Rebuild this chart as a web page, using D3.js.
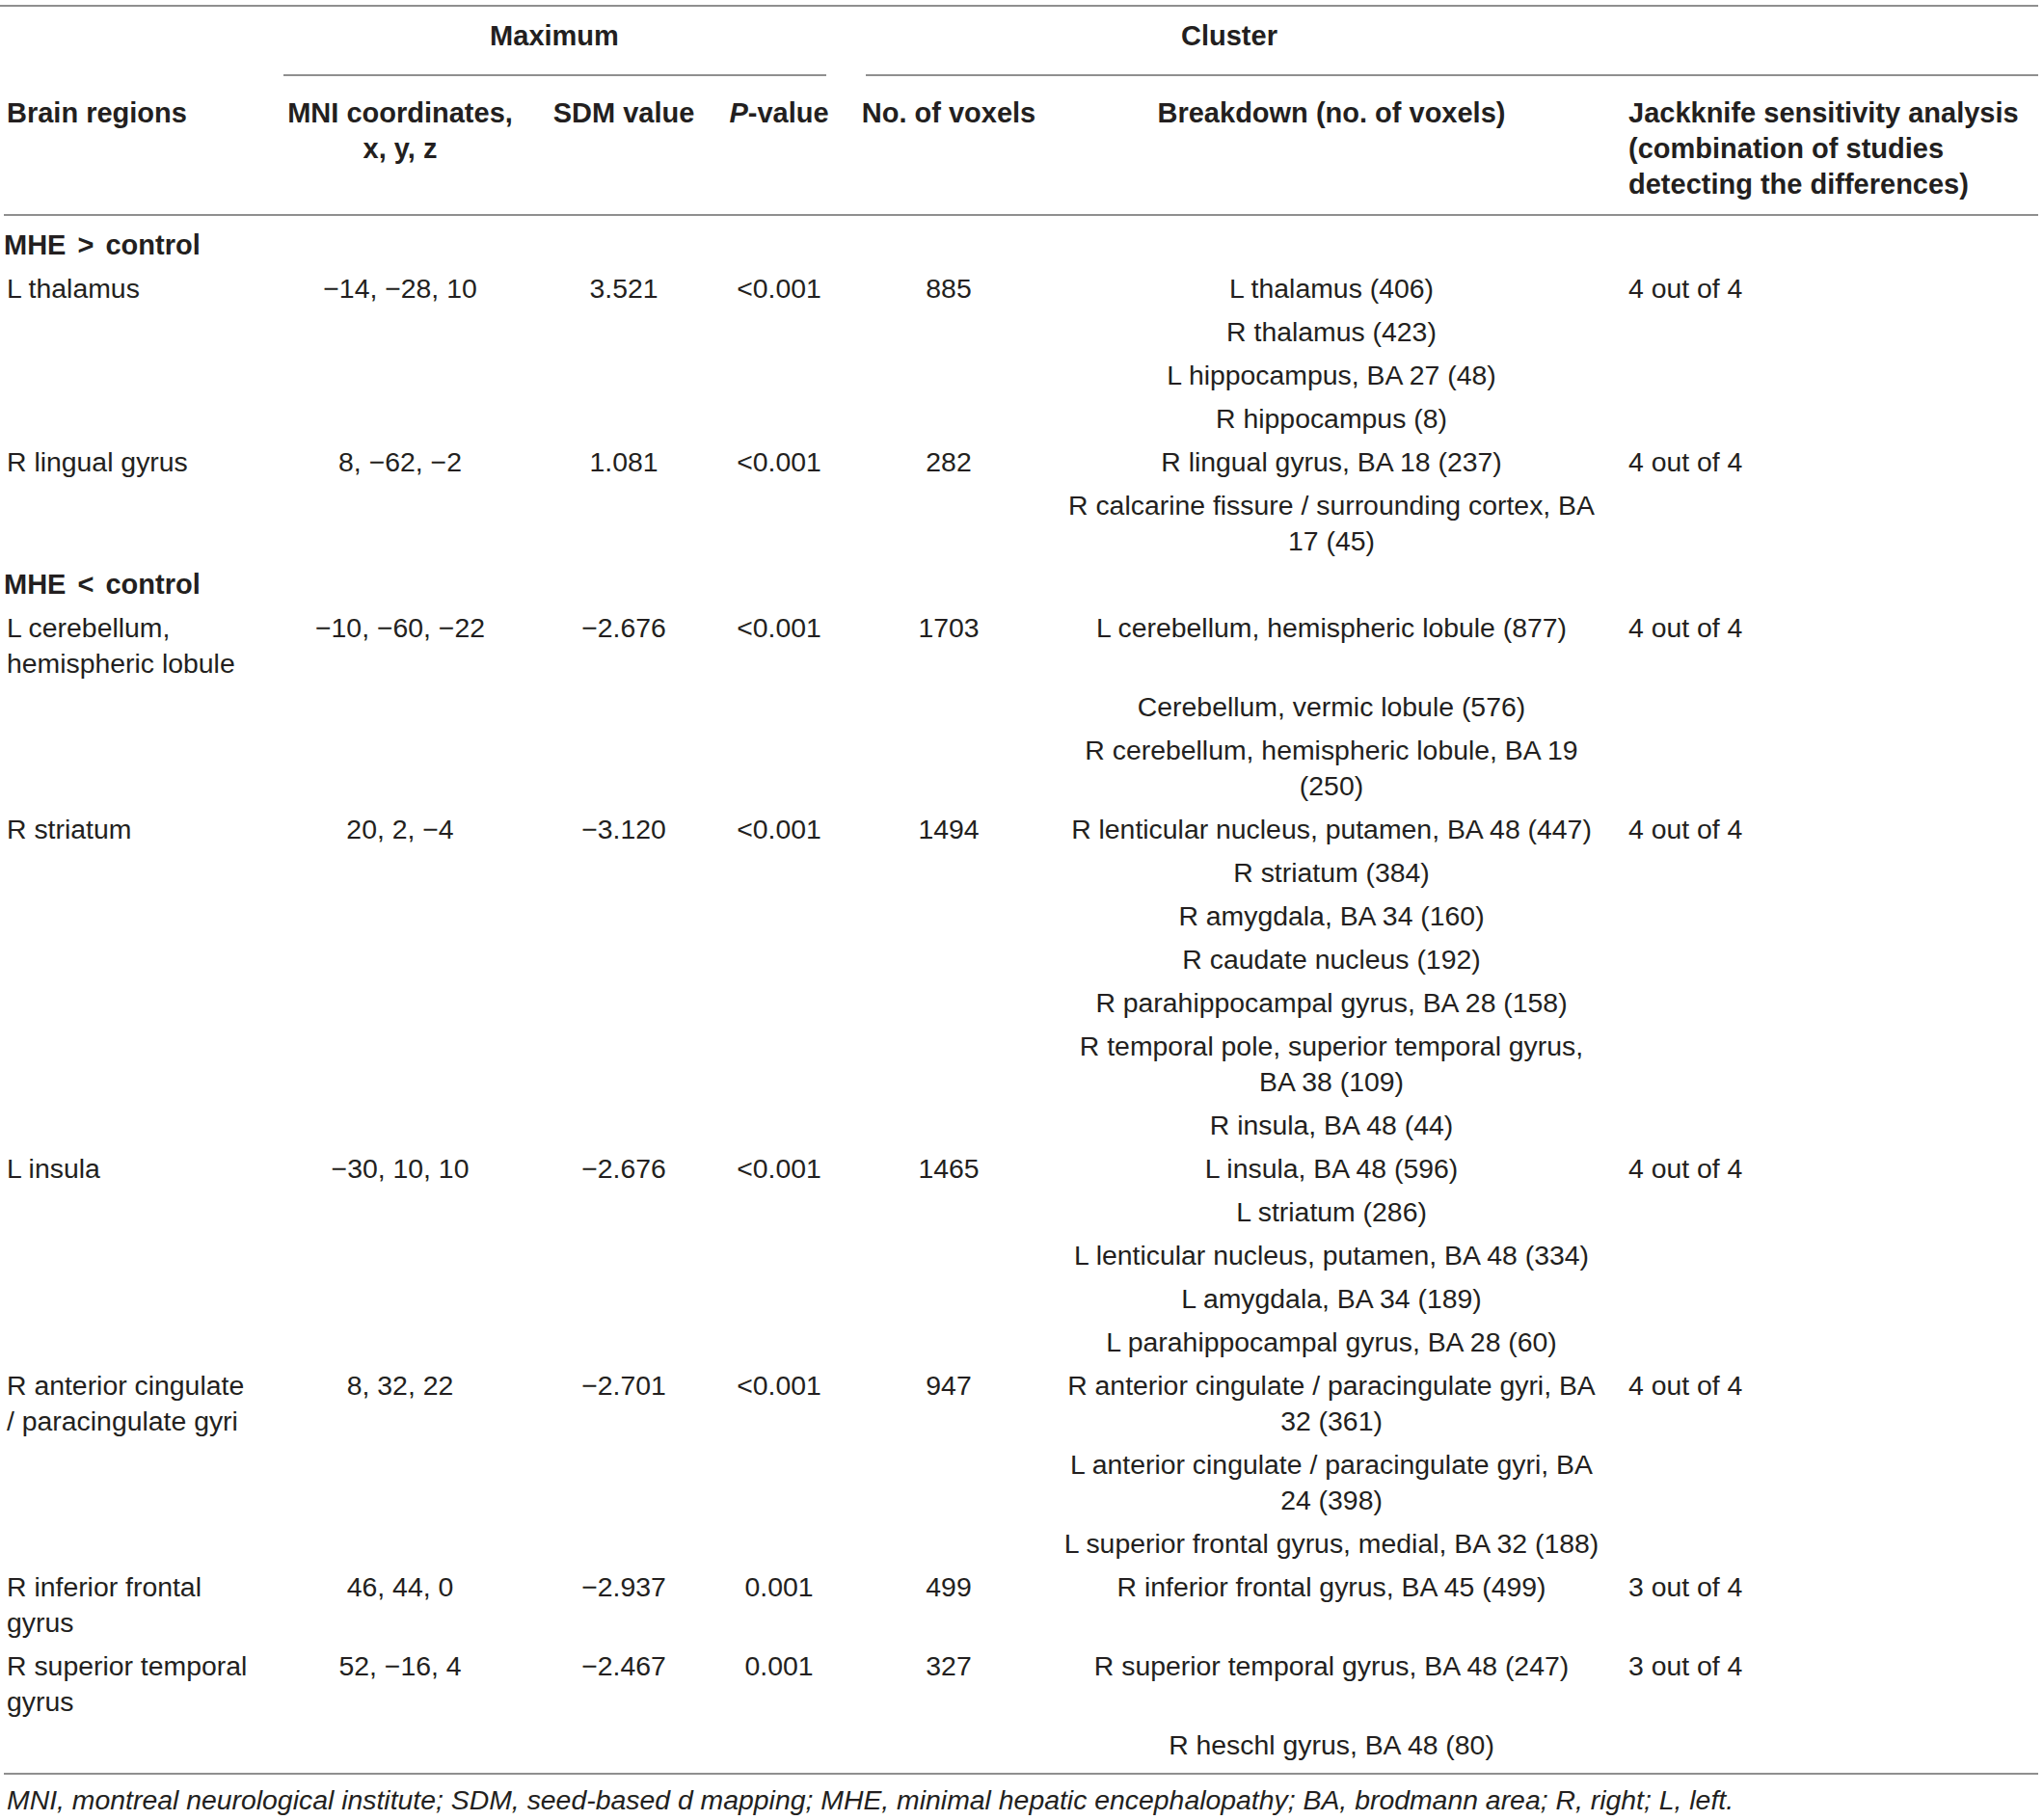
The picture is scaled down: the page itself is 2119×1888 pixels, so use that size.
<!DOCTYPE html>
<html><head><meta charset="utf-8">
<script src="https://cdn.jsdelivr.net/npm/d3@7"></script>
<style>body{margin:0;background:#fff}svg{display:block}</style>
</head><body><svg id="chart"></svg>
<script>
// ---------------- data ----------------
const groupLabels = ["MHE > control", "MHE < control"];
const regionGroup = [0, 0, 1, 1, 1, 1, 1, 1];
const regions = ["L thalamus", "R lingual gyrus", "L cerebellum,\nhemispheric lobule", "R striatum", "L insula",
  "R anterior cingulate\n/ paracingulate gyri", "R inferior frontal\ngyrus", "R superior temporal\ngyrus"];
const mniCoords = ["−14, −28, 10", "8, −62, −2", "−10, −60, −22", "20, 2, −4", "−30, 10, 10", "8, 32, 22", "46, 44, 0", "52, −16, 4"];
const sdmValues = ["3.521", "1.081", "−2.676", "−3.120", "−2.676", "−2.701", "−2.937", "−2.467"];
const pValues = ["<0.001", "<0.001", "<0.001", "<0.001", "<0.001", "<0.001", "0.001", "0.001"];
const voxelCounts = ["885", "282", "1703", "1494", "1465", "947", "499", "327"];
const breakdowns = [
  ["L thalamus (406)", "R thalamus (423)", "L hippocampus, BA 27 (48)", "R hippocampus (8)"],
  ["R lingual gyrus, BA 18 (237)", "R calcarine fissure / surrounding cortex, BA\n17 (45)"],
  ["L cerebellum, hemispheric lobule (877)", "Cerebellum, vermic lobule (576)", "R cerebellum, hemispheric lobule, BA 19\n(250)"],
  ["R lenticular nucleus, putamen, BA 48 (447)", "R striatum (384)", "R amygdala, BA 34 (160)", "R caudate nucleus (192)",
   "R parahippocampal gyrus, BA 28 (158)", "R temporal pole, superior temporal gyrus,\nBA 38 (109)", "R insula, BA 48 (44)"],
  ["L insula, BA 48 (596)", "L striatum (286)", "L lenticular nucleus, putamen, BA 48 (334)", "L amygdala, BA 34 (189)",
   "L parahippocampal gyrus, BA 28 (60)"],
  ["R anterior cingulate / paracingulate gyri, BA\n32 (361)", "L anterior cingulate / paracingulate gyri, BA\n24 (398)",
   "L superior frontal gyrus, medial, BA 32 (188)"],
  ["R inferior frontal gyrus, BA 45 (499)"],
  ["R superior temporal gyrus, BA 48 (247)", "R heschl gyrus, BA 48 (80)"]
];
const jackknife = ["4 out of 4", "4 out of 4", "4 out of 4", "4 out of 4", "4 out of 4", "4 out of 4", "3 out of 4", "3 out of 4"];
const spanHeaders = ["Maximum", "Cluster"];
const columnHeaders = ["Brain regions", "MNI coordinates,\nx, y, z", "SDM value", "P-value", "No. of voxels",
  "Breakdown (no. of voxels)", "Jackknife sensitivity analysis\n(combination of studies\ndetecting the differences)"];
const footnote = "MNI, montreal neurological institute; SDM, seed-based d mapping; MHE, minimal hepatic encephalopathy; BA, brodmann area; R, right; L, left.";

// ---------------- layout ----------------
const W = 2119, H = 1888;
const FS = 28.4, HFS = 29, LINE = 37, ROW = 45;
const FONT = "'Liberation Sans', Arial, Helvetica, sans-serif";
const TXT = "#231f20", RULE = "#8f8f8f";

const svg = d3.select("#chart").attr("width", W).attr("height", H)
  .style("font-family", FONT).style("font-size", FS + "px");

const colKeys = ["region", "mni", "sdm", "p", "vox", "bd", "jk"];
const colX = d3.scaleOrdinal().domain(colKeys).range([7, 415, 647, 808, 984, 1381, 1689]);
const colAnchor = d3.scaleOrdinal().domain(colKeys).range(["start", "middle", "middle", "middle", "middle", "middle", "start"]);

// build rows
const rows = [];
let lastGroup = -1;
regions.forEach((r, i) => {
  if (regionGroup[i] !== lastGroup) {
    lastGroup = regionGroup[i];
    rows.push({ cells: { region: groupLabels[lastGroup] }, bold: true });
  }
  breakdowns[i].forEach((b, j) => {
    const cells = { bd: b };
    if (j === 0) {
      cells.region = r; cells.mni = mniCoords[i]; cells.sdm = sdmValues[i];
      cells.p = pValues[i]; cells.vox = voxelCounts[i]; cells.jk = jackknife[i];
    }
    rows.push({ cells, bold: false });
  });
});
rows.forEach(r => { r.lines = d3.max(Object.values(r.cells), t => t.split("\n").length); });

// vertical positions (centre of first line)
let extra = 0;
rows.forEach((r, i) => { r.unit = i; r.extraBefore = extra; extra += r.lines - 1; });
const yRow = d3.scaleLinear().domain([0, 1]).range([254, 254 + ROW]);
rows.forEach(r => { r.y = yRow(r.unit) + r.extraBefore * LINE; });

const baseOff = 10; // centre -> baseline

function multiline(g, text, x, y, anchor) {
  const t = g.append("text").attr("x", x).attr("y", y + baseOff).attr("text-anchor", anchor).attr("fill", TXT);
  text.split("\n").forEach((ln, k) => {
    t.append("tspan").attr("x", x).attr("y", y + baseOff + k * LINE).text(ln);
  });
  return t;
}

// rules
const rules = [
  { x1: 0, x2: 2114, y: 6 },
  { x1: 294, x2: 857, y: 78 },
  { x1: 898, x2: 2114, y: 78 },
  { x1: 4, x2: 2114, y: 223 },
  { x1: 4, x2: 2114, y: 1840 }
];
svg.selectAll("line.rule").data(rules).join("line").attr("class", "rule")
  .attr("x1", d => d.x1).attr("x2", d => d.x2).attr("y1", d => d.y).attr("y2", d => d.y)
  .attr("stroke", RULE).attr("stroke-width", 2);

// header
const hg = svg.append("g").attr("font-weight", "bold").style("font-size", HFS + "px");
const spanX = d3.scaleOrdinal().domain(spanHeaders).range([575, 1275]);
spanHeaders.forEach(s => multiline(hg, s, spanX(s), 37, "middle"));
columnHeaders.forEach((h, i) => {
  const k = colKeys[i];
  if (k === "p") {
    const t = hg.append("text").attr("x", colX(k)).attr("y", 117 + baseOff).attr("text-anchor", "middle").attr("fill", TXT);
    t.append("tspan").attr("font-style", "italic").text("P");
    t.append("tspan").text("-value");
  } else {
    multiline(hg, h, colX(k), 117, colAnchor(k));
  }
});

// body
const bg = svg.append("g");
rows.forEach(r => {
  colKeys.forEach(k => {
    if (r.cells[k] === undefined) return;
    const t = multiline(bg, r.cells[k], r.bold ? 4 : colX(k), r.y, colAnchor(k));
    if (r.bold) t.attr("font-weight", "bold").style("font-size", HFS + "px").attr("word-spacing", 4);
  });
});

// footnote
svg.append("text").attr("x", 7).attr("y", 1867 + baseOff).attr("font-style", "italic")
  .attr("fill", TXT).text(footnote);
</script>
</body></html>
